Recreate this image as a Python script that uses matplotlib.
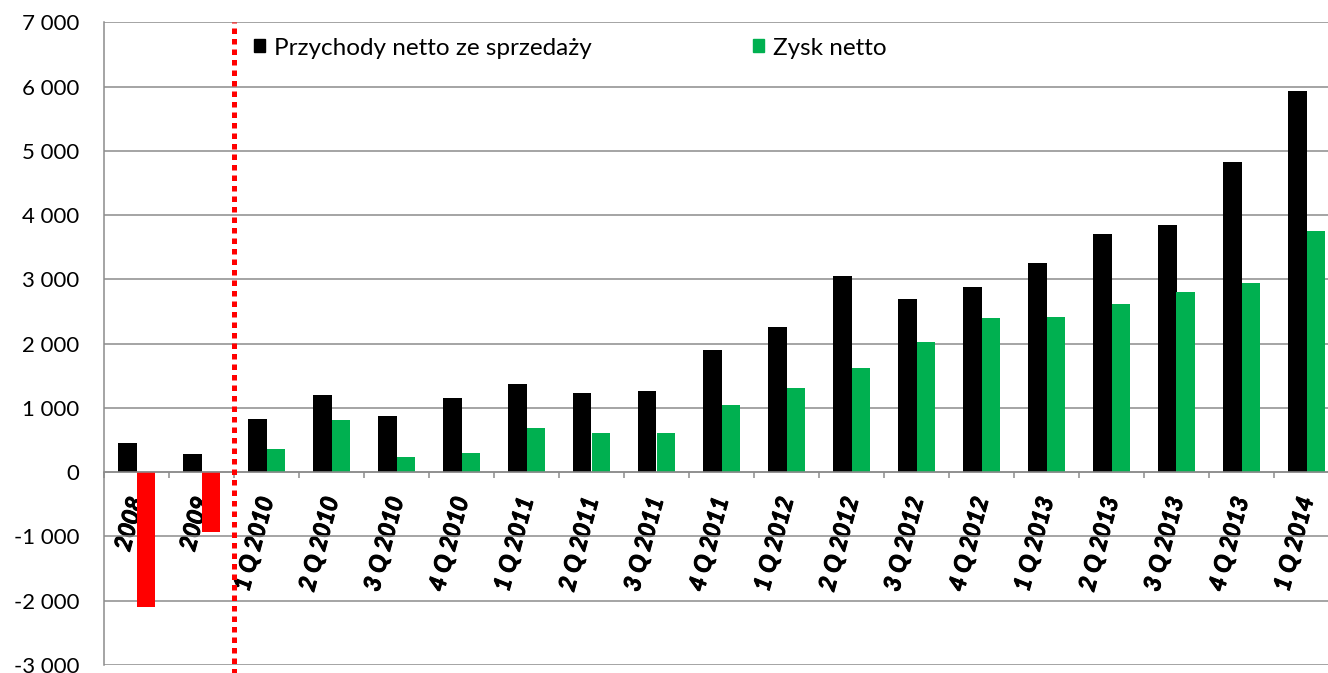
import numpy as np
import matplotlib.pyplot as plt
import matplotlib.patheffects as pe
from matplotlib.patches import Patch
from matplotlib.ticker import FuncFormatter, FixedLocator

plt.rcParams['font.family'] = ['Lato', 'DejaVu Sans']

categories = ['2008', '2009', '1 Q 2010', '2 Q 2010', '3 Q 2010', '4 Q 2010',
              '1 Q 2011', '2 Q 2011', '3 Q 2011', '4 Q 2011',
              '1 Q 2012', '2 Q 2012', '3 Q 2012', '4 Q 2012',
              '1 Q 2013', '2 Q 2013', '3 Q 2013', '4 Q 2013', '1 Q 2014']
przychody = [450, 285, 830, 1200, 880, 1160, 1370, 1230, 1265, 1900,
             2260, 3060, 2700, 2890, 3250, 3710, 3840, 4830, 5930]
zysk = [-2090, -930, 360, 820, 240, 295, 690, 610, 610, 1040,
        1310, 1620, 2030, 2400, 2410, 2620, 2810, 2950, 3750]

grid_col = '#8c8c8c'
green = '#00b050'

fig = plt.figure(figsize=(13.28, 6.73), dpi=100)
ax = fig.add_axes([104/1328, 8/673, 1235/1328, 642.6/673])

x = np.arange(len(categories))
w = 0.285
zcol = ['#ff0000' if v < 0 else green for v in zysk]
ax.bar(x - w/2, przychody, width=w, color='black', zorder=2)
ax.bar(x + w/2, zysk, width=w, color=zcol, zorder=2)

ax.set_xlim(-0.5, len(categories) - 0.5)
ax.set_ylim(-3000, 7000)
ax.set_yticks(np.arange(-3000, 7001, 1000))
ax.yaxis.set_major_formatter(FuncFormatter(lambda v, p: f"{int(v):,}".replace(",", " ")))
ax.yaxis.grid(True, color=grid_col, linewidth=1.1)
ax.set_axisbelow(True)
ax.tick_params(axis='y', length=0, pad=18, labelsize=16)

# category axis crosses at zero
ax.spines['bottom'].set_position(('data', 0))
ax.spines['bottom'].set_color(grid_col)
ax.spines['bottom'].set_linewidth(1.1)
ax.spines['bottom'].set_zorder(3)
ax.spines['left'].set_color(grid_col)
ax.spines['left'].set_linewidth(1.1)
ax.spines['top'].set_visible(False)
ax.spines['right'].set_visible(False)

ax.xaxis.set_major_locator(FixedLocator(np.arange(-0.5, len(categories), 1)))
ax.xaxis.set_minor_locator(FixedLocator(x))
ax.xaxis.set_major_formatter(FuncFormatter(lambda v, p: ''))
ax.set_xticks(x, categories, minor=True)
ax.tick_params(axis='x', which='major', length=4, width=1.1, color=grid_col, direction='out')
ax.tick_params(axis='x', which='minor', length=0, pad=18)
for lbl in ax.get_xticklabels(minor=True):
    lbl.set_rotation(75)
    lbl.set_rotation_mode('anchor')
    lbl.set_ha('right')
    lbl.set_va('center')
    lbl.set_fontsize(17)
    lbl.set_fontweight('bold')
    lbl.set_fontstyle('italic')
    # thicken strokes a little, the labels are heavy bold in the original
    lbl.set_path_effects([pe.withStroke(linewidth=0.7, foreground='black')])

# red dotted separator between yearly and quarterly data
ax.axvline(1.5, ymin=-0.02, ymax=1, color='#ff0000', linewidth=3.6,
           linestyle=(0, (1.1, 1.0)), clip_on=False, zorder=4)

handles = [Patch(color='black', label='Przychody netto ze sprzedaży'),
           Patch(color=green, label='Zysk netto')]
ax.legend(handles=handles, loc='center left', bbox_to_anchor=(0.104, 0.96),
          ncol=2, frameon=False, fontsize=17.5, handlelength=0.45, handleheight=0.45,
          handletextpad=0.35, columnspacing=6.65)

fig.savefig('out.png', dpi=100)
